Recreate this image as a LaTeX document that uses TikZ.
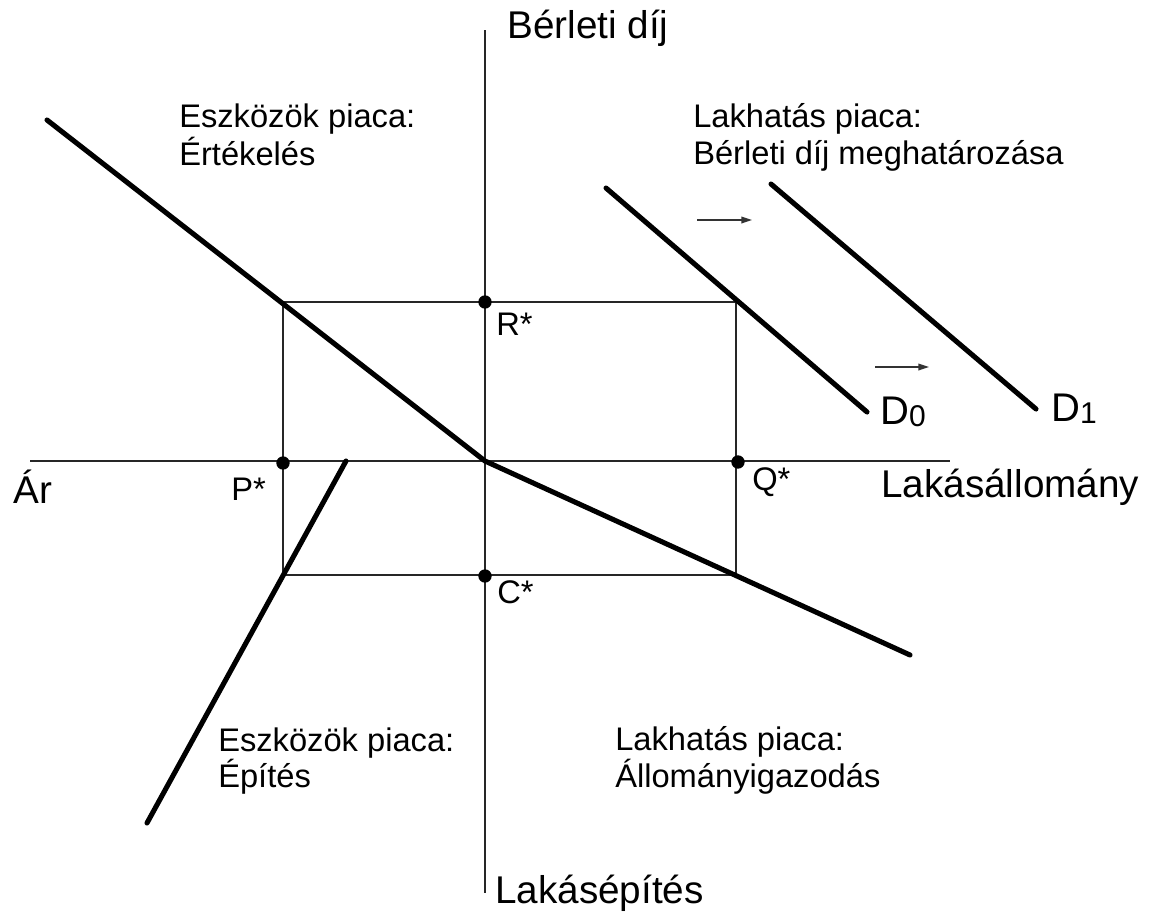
\documentclass[tikz,border=0pt]{standalone}
\usepackage{fontspec}
\setmainfont{Liberation Sans}
\usetikzlibrary{arrows.meta}
\begin{document}
\begin{tikzpicture}[x=0.75pt,y=-0.75pt,
  axis/.style={line width=1.3pt,black!85},
  guide/.style={line width=1.3pt,black!85},
  curve/.style={line width=3.8pt,black,line cap=round},
  shiftarrow/.style={line width=1.1pt,black!80,-{Triangle[length=8pt,width=5pt]}},
  dot/.style={circle,fill=black,inner sep=0pt,minimum size=10pt},
  biglab/.style={anchor=base west,inner sep=0pt,font=\fontsize{29}{34}\selectfont},
  smalllab/.style={anchor=base west,inner sep=0pt,font=\fontsize{24.5}{29}\selectfont}]
\useasboundingbox (0,0) rectangle (1152,915);

% axes
\coordinate (vtop) at (485,30);
\coordinate (vbot) at (485,893);
\coordinate (hleft) at (30,461);
\coordinate (hright) at (950,461);
\coordinate (O) at (485,461);
\draw[axis] (vtop) -- (vbot);
\draw[axis] (hleft) -- (hright);

% rectangle corners
\coordinate (TL) at (283,302);
\coordinate (TR) at (736,302);
\coordinate (BL) at (283,575);
\coordinate (BR) at (736,575);
\draw[guide] (TL) -- (TR) -- (BR) -- (BL) -- cycle;

% dots
\node[dot] (R) at (485,302) {};
\node[dot] (P) at (283,463) {};
\node[dot] (Q) at (738,462) {};
\node[dot] (C) at (485,576) {};

% thick curves
\coordinate (v1) at (47,120);
\coordinate (s1) at (910,655);
\draw[curve] (v1) -- (O) -- (s1);
\coordinate (c1) at (147,823);
\coordinate (c2) at (346,461);
\draw[curve] (c1) -- (c2);
\coordinate (d0a) at (606,188);
\coordinate (d0b) at (867,412);
\draw[curve] (d0a) -- (d0b);
\coordinate (d1a) at (771,184);
\coordinate (d1b) at (1036,409);
\draw[curve] (d1a) -- (d1b);

% shift arrows
\coordinate (a1s) at (697,220);
\coordinate (a1e) at (752,220);
\coordinate (a2s) at (875,367);
\coordinate (a2e) at (929,367);
\draw[shiftarrow] (a1s) -- (a1e);
\draw[shiftarrow] (a2s) -- (a2e);

% axis labels
\node[biglab] (lberl) at (507,38) {Bérleti díj};
\node[biglab] (lar) at (13,503) {Ár};
\node[biglab] (llak) at (881,497) {Lakásállomány};
\node[biglab] (lepit) at (495,903) {Lakásépítés};

% point labels
\node[smalllab] (lR) at (496,335) {R*};
\node[smalllab] (lP) at (231,500) {P*};
\node[smalllab] (lQ) at (752,490) {Q*};
\node[smalllab] (lC) at (497,603) {C*};

% D labels
\node[anchor=base west,inner sep=0pt,font=\fontsize{30}{34}\selectfont] (lD0) at (880,424) {D\raisebox{-1.5pt}{\fontsize{22.5}{24}\selectfont 0}};
\node[anchor=base west,inner sep=0pt,font=\fontsize{30}{34}\selectfont] (lD1) at (1051,421) {D\raisebox{-1.5pt}{\fontsize{22.5}{24}\selectfont 1}};

% quadrant labels
\node[smalllab] (q1a) at (179,127) {Eszközök piaca:};
\node[smalllab] (q1b) at (179,165) {Értékelés};
\node[smalllab] (q2a) at (693,127) {Lakhatás piaca:};
\node[smalllab] (q2b) at (693,164) {Bérleti díj meghatározása};
\node[smalllab] (q3a) at (218,751) {Eszközök piaca:};
\node[smalllab] (q3b) at (218,787) {Építés};
\node[smalllab] (q4a) at (615,750) {Lakhatás piaca:};
\node[smalllab] (q4b) at (615,787) {Állományigazodás};
\end{tikzpicture}
\end{document}
